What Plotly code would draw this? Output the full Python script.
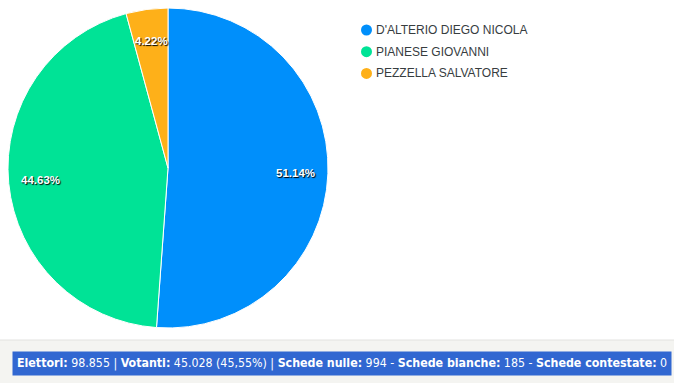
import plotly.graph_objects as go
import math

W, H = 674, 383

candidates = ["D'ALTERIO DIEGO NICOLA", "PIANESE GIOVANNI", "PEZZELLA SALVATORE"]
percentages = [51.14, 44.63, 4.22]
colors = ["#008FFB", "#00E396", "#FEB019"]
footer_parts = [
    ("Elettori:", " 98.855 | "),
    ("Votanti:", " 45.028 (45,55%) | "),
    ("Schede nulle:", " 994 - "),
    ("Schede bianche:", " 185 - "),
    ("Schede contestate:", " 0"),
]

# pie geometry (pixels)
cx, cy, R = 168, 168, 160

def px(x):
    return x / W

def py(y):
    return 1 - y / H

fig = go.Figure()
fig.add_trace(go.Pie(
    labels=candidates,
    values=percentages,
    marker=dict(colors=colors, line=dict(color="#ffffff", width=1)),
    sort=False,
    direction="clockwise",
    rotation=0,
    textinfo="none",
    hovertemplate="%{label}: %{value}%<extra></extra>",
    showlegend=False,
    domain=dict(x=[px(cx - R), px(cx + R)], y=[py(cy + R), py(cy - R)]),
))

annotations = []
shapes = []

# data labels at 0.8R along slice mid-angles
total = sum(percentages)
cum = 0.0
for v in percentages:
    mid = (cum + v / 2) / total * 2 * math.pi
    cum += v
    r = 0.8 * R
    x = cx + r * math.sin(mid)
    y = cy - r * math.cos(mid)
    annotations.append(dict(
        x=px(x), y=py(y), xref="paper", yref="paper",
        text=f"<b>{v:.2f}%</b>", showarrow=False,
        font=dict(family="Liberation Sans, Arial, sans-serif", size=11.5, color="#ffffff",
                  shadow="1px 1px 1px #000000"),
        xanchor="center", yanchor="middle",
    ))

# custom legend
for i, (name, col) in enumerate(zip(candidates, colors)):
    ly = 30 + i * 21.7
    shapes.append(dict(type="circle", xref="paper", yref="paper",
                       x0=px(361), x1=px(372), y0=py(ly + 5.5), y1=py(ly - 5.5),
                       fillcolor=col, line=dict(width=0)))
    annotations.append(dict(
        x=px(374), y=py(ly), xref="paper", yref="paper", text=name,
        showarrow=False, xanchor="left", yanchor="middle",
        font=dict(family="Liberation Sans, Arial, sans-serif", size=12, color="#373d3f"),
    ))

# footer strip
shapes.append(dict(type="rect", xref="paper", yref="paper", x0=0, x1=1, y0=0, y1=py(340),
                   fillcolor="#f4f4f1", line=dict(width=0), layer="below"))
shapes.append(dict(type="line", xref="paper", yref="paper", x0=0, x1=1, y0=py(340), y1=py(340),
                   line=dict(color="#e2e2e0", width=1)))

footer_text = "".join(f"<b>{b}</b>{t}" for b, t in footer_parts)
annotations.append(dict(
    x=px(12), y=py(363), xref="paper", yref="paper", text=footer_text,
    showarrow=False, xanchor="left", yanchor="middle",
    bgcolor="#3167d1", borderpad=4,
    font=dict(family="Liberation Sans Narrow, DejaVu Sans Condensed, Arial Narrow, sans-serif",
              size=12.3, color="#ffffff"),
))

fig.update_layout(
    width=W, height=H,
    margin=dict(l=0, r=0, t=0, b=0),
    paper_bgcolor="#ffffff",
    plot_bgcolor="#ffffff",
    annotations=annotations,
    shapes=shapes,
    showlegend=False,
)

fig.write_html("out.html", config={"displayModeBar": False},
               post_script="document.body.style.margin='0';")
